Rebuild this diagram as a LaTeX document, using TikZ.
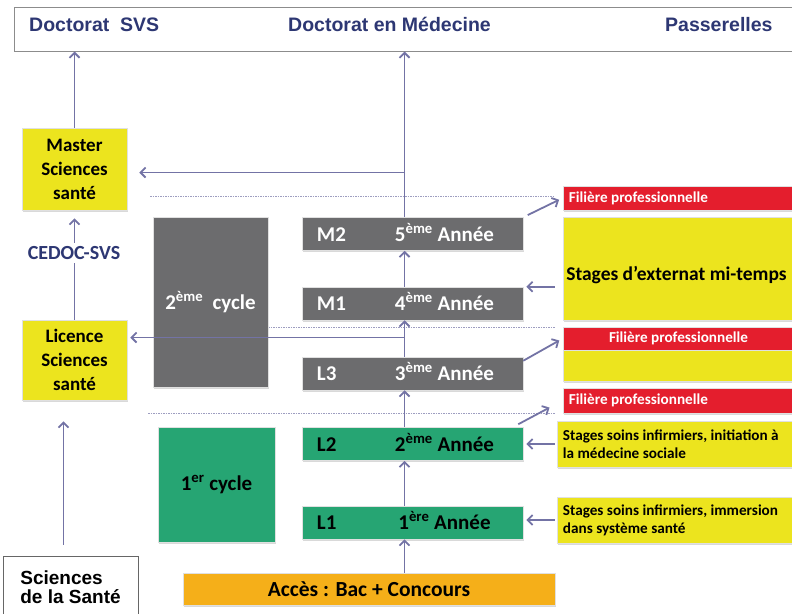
\documentclass[tikz,border=0pt]{standalone}
\usepackage{fontspec}
\setmainfont{Carlito}
\newfontfamily\arial{Liberation Sans}
\usetikzlibrary{arrows.meta,shadows}

\definecolor{bleufonce}{RGB}{45,55,115}
\definecolor{fleche}{RGB}{115,115,165}
\definecolor{jaune}{RGB}{236,228,30}
\definecolor{gris}{RGB}{108,108,110}
\definecolor{vert}{RGB}{38,165,115}
\definecolor{rouge}{RGB}{228,30,45}
\definecolor{orangebac}{RGB}{245,175,25}

\tikzset{
  boite/.style={rectangle, inner sep=0pt, draw=black!12, line width=0.5pt,
    drop shadow={shadow xshift=1.2pt, shadow yshift=-1.5pt, opacity=0.3}},
  fl/.style={draw=fleche, line width=1.8pt, -{Straight Barb[length=5pt,width=10pt]}},
  pointille/.style={draw=fleche!70, line width=0.9pt, dash pattern=on 1.5pt off 1pt},
  haut/.style={font=\arial\bfseries\fontsize{19.5}{22}\selectfont, text=bleufonce, inner sep=0pt},
  txt/.style={font=\bfseries\fontsize{19}{24}\selectfont, inner sep=0pt},
  cyc/.style={font=\bfseries\fontsize{21}{24}\selectfont, inner sep=0pt},
  an/.style={font=\bfseries\fontsize{21}{24}\selectfont, inner sep=0pt},
  petit/.style={font=\bfseries\fontsize{15.2}{18}\selectfont, inner sep=0pt},
}

\begin{document}
\begin{tikzpicture}[x=1pt, y=-1pt]
\useasboundingbox (0,0) rectangle (792,613);

% separations entre les annees
\draw[pointille] (150,196) -- (555,196);
\draw[pointille] (268,327) -- (555,327);
\draw[pointille] (148,413) -- (555,413);

% debouches
\node[rectangle, draw=black!45, line width=1pt, fill=white, minimum width=781pt, minimum height=44pt] (top) at (404.5,29) {};
\node[haut, anchor=base west] (dsvs) at (29,31) {Doctorat\ \ SVS};
\node[haut, anchor=base west] (dmed) at (288,31) {Doctorat en Médecine};
\node[haut, anchor=base west] (pass) at (665,31) {Passerelles};

% colonne sciences
\node[boite, fill=jaune, minimum width=105pt, minimum height=82pt, align=center, txt] (master) at (74.5,169) {Master\\Sciences\\santé};
\node[boite, fill=jaune, minimum width=105pt, minimum height=80pt, align=center, txt] (lic) at (74.5,360) {Licence\\Sciences\\santé};
\node[rectangle, draw=black!60, line width=1pt, fill=white, minimum width=135pt, minimum height=62pt, align=left,
  font=\arial\bfseries\fontsize{19}{19}\selectfont, inner sep=0pt] (sci) at (70.5,587) {Sciences\\de la Santé};

% cycles
\node[boite, fill=gris, text=white, minimum width=115pt, minimum height=170pt, cyc] (cyc2) at (210.5,302) {2\textsuperscript{ème}\ \ cycle};
\node[boite, fill=vert, minimum width=117pt, minimum height=115pt, cyc] (cyc1) at (216.5,484.5) {1\textsuperscript{er} cycle};
\node[boite, fill=orangebac, minimum width=372pt, minimum height=32pt, font=\bfseries\fontsize{21.5}{24}\selectfont] (acces) at (369,589) {Accès : Bac + Concours};

% annees
\foreach \n/\yc/\num/\suf/\fond/\ecr in {M2/234/5/ème/gris/white, M1/303.5/4/ème/gris/white, L3/373.5/3/ème/gris/white, L2/444/2/ème/vert/black, L1/522.5/1/ère/vert/black} {
  \node[boite, fill=\fond, minimum width=221pt, minimum height=33pt] (\n) at (412.5,\yc) {};
  \node[an, text=\ecr, anchor=base west] (\n-code) at ([xshift=15pt,yshift=-7pt]\n.west) {\n};
  \node[an, text=\ecr, anchor=base] (\n-an) at ([xshift=32pt,yshift=-7pt]\n.center) {\num\textsuperscript{\suf} Année};
}

% stages et filieres
\node[boite, fill=rouge, minimum width=231pt, minimum height=24pt] (red1) at (678.5,198) {};
\node[petit, text=white, anchor=west] (red1-t) at ([xshift=6pt]red1.west) {Filière professionnelle};
\node[boite, fill=jaune, minimum width=231pt, minimum height=103pt] (ext) at (678.5,268.5) {};
\node[txt, font=\bfseries\fontsize{19.5}{24}\selectfont] (ext-t) at ([xshift=-2pt,yshift=-7pt]ext.center) {Stages d’externat mi-temps};
\node[boite, fill=jaune, minimum width=231pt, minimum height=54pt] (ext2) at (678.5,354) {};
\node[rectangle, fill=rouge, draw=black!12, line width=0.5pt, minimum width=231pt, minimum height=23pt, inner sep=0pt,
  petit, text=white] (red2) at (678.5,338.5) {Filière professionnelle};
\node[boite, fill=rouge, minimum width=231pt, minimum height=25pt] (red3) at (678.5,400.5) {};
\node[petit, text=white, anchor=west] (red3-t) at ([xshift=6pt]red3.west) {Filière professionnelle};
\node[boite, fill=jaune, minimum width=237pt, minimum height=46pt] (jaune2) at (675.5,444) {};
\node[petit, anchor=west, align=left] (jaune2-t) at ([xshift=6pt]jaune2.west) {Stages soins infirmiers, initiation à\\la médecine sociale};
\node[boite, fill=jaune, minimum width=237pt, minimum height=46pt] (jaune3) at (675.5,520) {};
\node[petit, anchor=west, align=left] (jaune3-t) at ([xshift=6pt]jaune3.west) {Stages soins infirmiers, immersion\\dans système santé};

% fleches
\draw[fl] (M2.north -| top.south) -- (top.south);
\foreach \a/\b in {acces/L1, L1/L2, L2/L3, L3/M1, M1/M2}
  \draw[fl] (\a.north -| top.south) -- (\b.south -| top.south);
\path (top.south) ++(0,121) coordinate (jm);
\draw[fl, shorten >=12pt] (jm) -- (jm -| master.east);
\path (top.south) ++(0,286) coordinate (jl);
\draw[fl, shorten >=3pt] (jl) -- (jl -| lic.east);

\draw[fl] (master.north) -- (master.north |- top.south);
\draw[fl, shorten >=8pt] (lic.north) -- (master.south);
\node[font=\bfseries\fontsize{20}{22}\selectfont, text=bleufonce, fill=white, inner sep=3pt] (cedoc) at (74,253) {CEDOC-SVS};
\path ([xshift=-7pt]sci.north) coordinate (sa);
\draw[fl, shorten <=11pt, shorten >=21pt] (sa) -- (sa |- lic.south);

\draw[fl, shorten <=5pt, shorten >=4pt] (M2.north east) -- (red1.west);
\draw[fl, shorten <=8pt, shorten >=3pt] (ext.west |- M1.north east) -- (M1.north east);
\draw[fl, shorten >=4pt] ([yshift=-4pt]L3.north east) -- (red2.west);
\draw[fl, shorten >=15pt] ([xshift=-5pt,yshift=3pt]L2.north east) -- (red3.west);
\draw[fl, shorten <=2pt, shorten >=3pt] (jaune2.west) -- (jaune2.west -| L2.east);
\draw[fl, shorten <=2pt, shorten >=3pt] (jaune3.west) -- (jaune3.west -| L1.east);
\end{tikzpicture}
\end{document}
